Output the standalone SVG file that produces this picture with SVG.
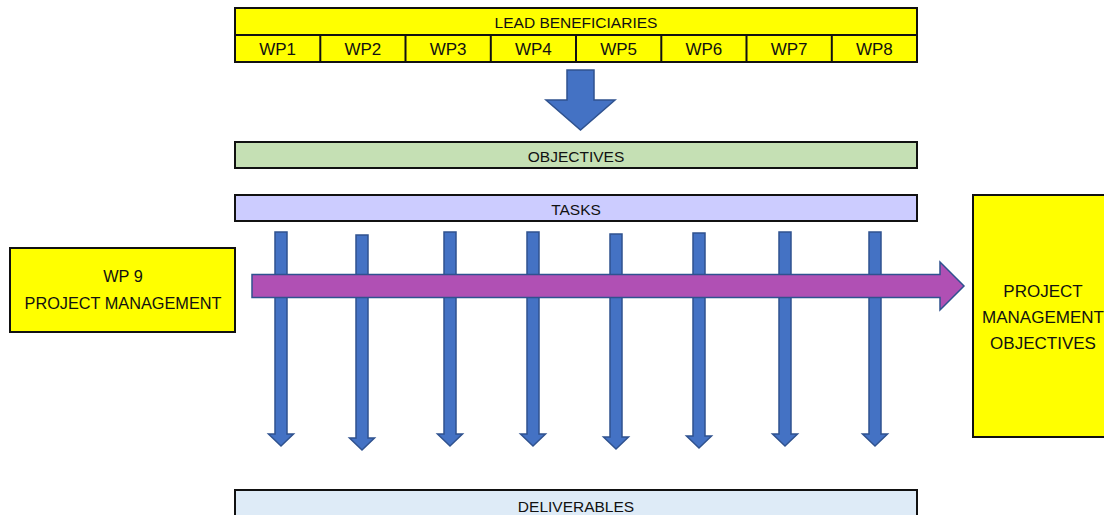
<svg xmlns="http://www.w3.org/2000/svg" width="1104" height="515" viewBox="0 0 1104 515">
<style>
.box{stroke:#111;stroke-width:2}
.yel{fill:#FFFF00}
.t{font-family:"Liberation Sans",Arial,sans-serif;font-size:15.5px;fill:#111;text-anchor:middle;dominant-baseline:central}
.wp{font-size:17px}
.m{font-size:16.3px}
.p{font-size:17px}
.blue{fill:#4472C4;stroke:#2F528F;stroke-width:1.5}
.purple{fill:#B050B4;stroke:#2F528F;stroke-width:1.5}
</style>
<rect width="1104" height="515" fill="#fff"/>
<g id="lead">
<rect class="box yel" x="235" y="8" width="682" height="54"/>
<line class="box" x1="235" y1="35" x2="917" y2="35"/>
<text class="t" x="576" y="22">LEAD BENEFICIARIES</text>
</g>
<g id="wps">
<line class="box" x1="320.3" y1="35" x2="320.3" y2="62"/>
<line class="box" x1="405.5" y1="35" x2="405.5" y2="62"/>
<line class="box" x1="490.8" y1="35" x2="490.8" y2="62"/>
<line class="box" x1="576" y1="35" x2="576" y2="62"/>
<line class="box" x1="661.3" y1="35" x2="661.3" y2="62"/>
<line class="box" x1="746.5" y1="35" x2="746.5" y2="62"/>
<line class="box" x1="831.8" y1="35" x2="831.8" y2="62"/>
<text class="t wp" x="277.6" y="49">WP1</text>
<text class="t wp" x="362.9" y="49">WP2</text>
<text class="t wp" x="448.1" y="49">WP3</text>
<text class="t wp" x="533.4" y="49">WP4</text>
<text class="t wp" x="618.6" y="49">WP5</text>
<text class="t wp" x="703.9" y="49">WP6</text>
<text class="t wp" x="789.1" y="49">WP7</text>
<text class="t wp" x="874.4" y="49">WP8</text>
</g>
<g id="objectives">
<rect class="box" fill="#C5E0B4" x="235" y="142" width="682" height="26"/>
<text class="t" x="576" y="156">OBJECTIVES</text>
</g>
<g id="tasks">
<rect class="box" fill="#CCCCFF" x="235" y="195" width="682" height="26"/>
<text class="t" x="576" y="209">TASKS</text>
</g>
<g id="wp9">
<rect class="box yel" x="10" y="248" width="225" height="84"/>
<text class="t m" x="123" y="276">WP 9</text>
<text class="t m" x="123" y="303">PROJECT MANAGEMENT</text>
</g>
<g id="pmo">
<rect class="box yel" x="973" y="195" width="145" height="242"/>
<text class="t p" x="1043" y="291">PROJECT</text>
<text class="t p" x="1043" y="317">MANAGEMENT</text>
<text class="t p" x="1043" y="343">OBJECTIVES</text>
</g>
<g id="deliverables">
<rect class="box" fill="#DEEBF7" x="235" y="490" width="682" height="30"/>
<text class="t" x="576" y="506">DELIVERABLES</text>
</g>
<g id="connectors">
<path class="blue" d="M567,70 H594 V100 H615 L580.5,130 L546,100 H567 Z"/>
<path class="blue" d="M275,232 H287 V434 H293.5 L281,446 L268.5,434 H275 Z"/>
<path class="blue" d="M356,235 H368 V438 H374.5 L362,450 L349.5,438 H356 Z"/>
<path class="blue" d="M444,232 H456 V434 H462.5 L450,446 L437.5,434 H444 Z"/>
<path class="blue" d="M527,232 H539 V434 H545.5 L533,446 L520.5,434 H527 Z"/>
<path class="blue" d="M610,234 H622 V437 H628.5 L616,449 L603.5,437 H610 Z"/>
<path class="blue" d="M693,233 H705 V436 H711.5 L699,448 L686.5,436 H693 Z"/>
<path class="blue" d="M779,232 H791 V434 H797.5 L785,446 L772.5,434 H779 Z"/>
<path class="blue" d="M869,232 H881 V434 H887.5 L875,446 L862.5,434 H869 Z"/>
<path class="purple" d="M252,274.5 H940 V262 L964,286 L940,310 V297.5 H252 Z"/>
</g>
</svg>
